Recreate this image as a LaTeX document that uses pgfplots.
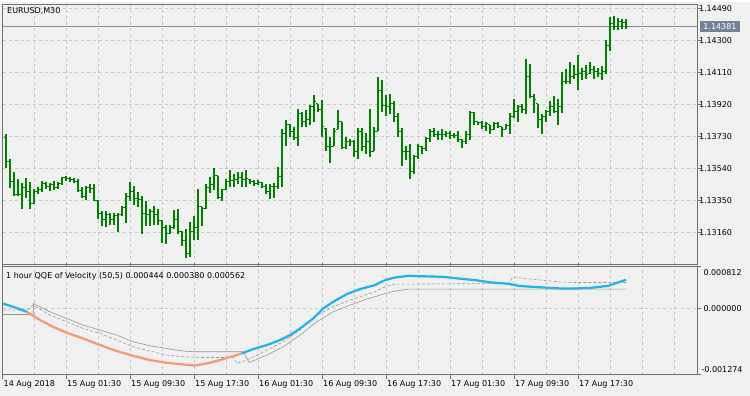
\documentclass[border=0pt]{standalone}
\usepackage{pgfplots}
\pgfplotsset{compat=1.18}
\usepackage{pgfplotstable}
\usepackage{fontspec}
\setmainfont{DejaVu Sans}
\definecolor{bgcol}{RGB}{240,240,240}
\definecolor{framecol}{RGB}{112,112,112}
\definecolor{gridcol}{RGB}{198,198,198}
\definecolor{barcol}{RGB}{0,128,0}
\definecolor{pricecol}{RGB}{116,130,152}
\definecolor{priceline}{RGB}{128,140,168}
\definecolor{qqeup}{RGB}{30,180,232}
\definecolor{qqedn}{RGB}{248,152,112}
\definecolor{trailcol}{RGB}{150,150,150}

\pgfdeclareplotmark{ohlcopen}{\pgfpathmoveto{\pgfqpoint{-1.7bp}{0bp}}\pgfpathlineto{\pgfqpoint{0bp}{0bp}}\pgfusepathqstroke}
\pgfdeclareplotmark{ohlcclose}{\pgfpathmoveto{\pgfqpoint{0bp}{0bp}}\pgfpathlineto{\pgfqpoint{1.7bp}{0bp}}\pgfusepathqstroke}

\pgfplotstableread{
i o h l c
0 1.13724 1.13742 1.13540 1.13582
1 1.13582 1.13599 1.13427 1.13463
2 1.13463 1.13522 1.13374 1.13386
3 1.13386 1.13475 1.13374 1.13386
4 1.13386 1.13451 1.13302 1.13427
5 1.13427 1.13481 1.13362 1.13403
6 1.13403 1.13457 1.13297 1.13332
7 1.13332 1.13421 1.13332 1.13403
8 1.13403 1.13433 1.13386 1.13415
9 1.13415 1.13463 1.13403 1.13451
10 1.13451 1.13457 1.13421 1.13433
11 1.13433 1.13451 1.13409 1.13445
12 1.13445 1.13463 1.13415 1.13427
13 1.13427 1.13457 1.13421 1.13451
14 1.13451 1.13492 1.13439 1.13487
15 1.13487 1.13498 1.13463 1.13481
16 1.13481 1.13492 1.13457 1.13475
17 1.13475 1.13481 1.13451 1.13463
18 1.13463 1.13475 1.13403 1.13409
19 1.13409 1.13433 1.13362 1.13374
20 1.13374 1.13439 1.13350 1.13427
21 1.13427 1.13445 1.13392 1.13421
22 1.13421 1.13445 1.13344 1.13350
23 1.13350 1.13350 1.13243 1.13273
24 1.13273 1.13285 1.13196 1.13237
25 1.13237 1.13285 1.13190 1.13267
26 1.13267 1.13273 1.13207 1.13237
27 1.13237 1.13273 1.13207 1.13261
28 1.13261 1.13273 1.13160 1.13267
29 1.13267 1.13320 1.13255 1.13308
30 1.13308 1.13397 1.13219 1.13374
31 1.13374 1.13457 1.13344 1.13403
32 1.13403 1.13439 1.13326 1.13362
33 1.13362 1.13403 1.13314 1.13356
34 1.13356 1.13374 1.13148 1.13273
35 1.13273 1.13344 1.13196 1.13267
36 1.13267 1.13297 1.13196 1.13285
37 1.13285 1.13320 1.13207 1.13267
38 1.13267 1.13302 1.13207 1.13231
39 1.13231 1.13237 1.13095 1.13190
40 1.13190 1.13207 1.13089 1.13154
41 1.13154 1.13207 1.13148 1.13190
42 1.13190 1.13291 1.13178 1.13237
43 1.13237 1.13297 1.13148 1.13166
44 1.13166 1.13166 1.13077 1.13112
45 1.13112 1.13178 1.13006 1.13035
46 1.13035 1.13225 1.13017 1.13166
47 1.13166 1.13255 1.13118 1.13190
48 1.13190 1.13421 1.13118 1.13314
49 1.13314 1.13314 1.13196 1.13302
50 1.13302 1.13445 1.13302 1.13427
51 1.13427 1.13492 1.13392 1.13445
52 1.13445 1.13540 1.13415 1.13498
53 1.13498 1.13498 1.13356 1.13368
54 1.13368 1.13421 1.13344 1.13415
55 1.13415 1.13475 1.13415 1.13463
56 1.13463 1.13534 1.13433 1.13469
57 1.13469 1.13510 1.13433 1.13475
58 1.13475 1.13522 1.13445 1.13487
59 1.13487 1.13522 1.13433 1.13475
60 1.13475 1.13534 1.13433 1.13481
61 1.13475 1.13475 1.13445 1.13463
62 1.13463 1.13469 1.13439 1.13451
63 1.13451 1.13469 1.13439 1.13457
64 1.13457 1.13457 1.13427 1.13433
65 1.13433 1.13445 1.13386 1.13403
66 1.13403 1.13445 1.13356 1.13433
67 1.13433 1.13451 1.13362 1.13433
68 1.13433 1.13546 1.13421 1.13492
69 1.13492 1.13772 1.13433 1.13748
70 1.13748 1.13831 1.13671 1.13801
71 1.13801 1.13807 1.13730 1.13760
72 1.13760 1.13789 1.13712 1.13724
73 1.13724 1.13896 1.13671 1.13867
74 1.13867 1.13878 1.13789 1.13819
75 1.13819 1.13890 1.13789 1.13831
76 1.13831 1.13920 1.13801 1.13908
77 1.13908 1.13979 1.13819 1.13938
78 1.13926 1.13926 1.13878 1.13890
79 1.13890 1.13944 1.13730 1.13789
80 1.13778 1.13778 1.13641 1.13671
81 1.13671 1.13730 1.13570 1.13671
82 1.13671 1.13778 1.13671 1.13760
83 1.13772 1.13890 1.13772 1.13819
84 1.13819 1.13819 1.13653 1.13665
85 1.13665 1.13730 1.13653 1.13700
86 1.13700 1.13718 1.13671 1.13700
87 1.13700 1.13712 1.13611 1.13641
88 1.13641 1.13778 1.13599 1.13760
89 1.13760 1.13783 1.13641 1.13671
90 1.13671 1.13748 1.13629 1.13700
91 1.13700 1.13896 1.13611 1.13641
92 1.13641 1.13789 1.13641 1.13760
93 1.13760 1.14086 1.13760 1.14003
94 1.14003 1.14068 1.13878 1.13914
95 1.13914 1.13979 1.13849 1.13908
96 1.13908 1.13985 1.13861 1.13926
97 1.13926 1.13938 1.13819 1.13849
98 1.13849 1.13867 1.13730 1.13760
99 1.13760 1.13778 1.13552 1.13641
100 1.13641 1.13671 1.13593 1.13641
101 1.13641 1.13683 1.13475 1.13522
102 1.13522 1.13623 1.13510 1.13611
103 1.13611 1.13683 1.13599 1.13671
104 1.13671 1.13671 1.13629 1.13659
105 1.13659 1.13730 1.13641 1.13718
106 1.13718 1.13772 1.13700 1.13760
107 1.13760 1.13778 1.13730 1.13742
108 1.13742 1.13760 1.13712 1.13742
109 1.13742 1.13772 1.13712 1.13742
110 1.13742 1.13760 1.13730 1.13748
111 1.13748 1.13760 1.13718 1.13736
112 1.13736 1.13748 1.13724 1.13736
113 1.13736 1.13760 1.13700 1.13712
114 1.13712 1.13718 1.13659 1.13700
115 1.13700 1.13760 1.13688 1.13742
116 1.13742 1.13884 1.13712 1.13873
117 1.13873 1.13878 1.13801 1.13819
118 1.13819 1.13819 1.13801 1.13813
119 1.13813 1.13825 1.13772 1.13789
120 1.13789 1.13819 1.13760 1.13807
121 1.13801 1.13801 1.13742 1.13772
122 1.13772 1.13819 1.13766 1.13807
123 1.13807 1.13819 1.13778 1.13789
124 1.13789 1.13789 1.13730 1.13772
125 1.13772 1.13807 1.13772 1.13795
126 1.13795 1.13867 1.13742 1.13849
127 1.13849 1.13950 1.13837 1.13878
128 1.13878 1.13920 1.13819 1.13908
129 1.13908 1.13926 1.13867 1.13890
130 1.13890 1.14193 1.13861 1.14086
131 1.14086 1.14163 1.13956 1.13968
132 1.13968 1.13985 1.13867 1.13950
133 1.13926 1.13926 1.13778 1.13831
134 1.13831 1.13861 1.13742 1.13849
135 1.13849 1.13890 1.13819 1.13878
136 1.13878 1.13938 1.13849 1.13908
137 1.13908 1.13968 1.13867 1.13878
138 1.13878 1.13950 1.13801 1.13908
139 1.13908 1.14116 1.13867 1.14057
140 1.14057 1.14128 1.14039 1.14057
141 1.14057 1.14175 1.14039 1.14086
142 1.14086 1.14157 1.14074 1.14098
143 1.14098 1.14217 1.14009 1.14104
144 1.14104 1.14134 1.14068 1.14116
145 1.14116 1.14157 1.14074 1.14098
146 1.14104 1.14175 1.14104 1.14128
147 1.14128 1.14146 1.14074 1.14116
148 1.14116 1.14134 1.14086 1.14104
149 1.14104 1.14146 1.14068 1.14116
150 1.14116 1.14306 1.14104 1.14270
151 1.14270 1.14437 1.14235 1.14401
152 1.14401 1.14443 1.14365 1.14383
153 1.14383 1.14431 1.14365 1.14413
154 1.14413 1.14425 1.14371 1.14407
155 1.14407 1.14425 1.14371 1.14381
}\bars

\begin{document}
\begin{tikzpicture}[font=\fontsize{8bp}{9.6bp}\selectfont]
\fill[bgcol] (0bp,0bp) rectangle (750bp,-394bp);

% ---------- price panel ----------
\begin{axis}[
  at={(2.5bp,-2.5bp)}, anchor=north west,
  scale only axis, width=694.5bp, height=260.8bp,
  xmin=-0.875, xmax=172.75, ymin=1.12968, ymax=1.14517,
  axis line style={framecol, line width=0.8bp},
  xtick={7,15,...,167}, xticklabels={}, xtick style={draw=none},
  ytick={1.13160,1.13350,1.13540,1.13730,1.13920,1.14110,1.14300,1.14490},
  yticklabels={1.13160,1.13350,1.13540,1.13730,1.13920,1.14110,1.14300,1.14490},
  ytick pos=right, yticklabel pos=right,
  tick align=outside, major tick length=4bp,
  ytick style={framecol, line width=0.8bp},
  yticklabel style={anchor=west, inner sep=0pt, xshift=-2.2bp, text=black},
  grid=major,
  major grid style={gridcol, line width=0.7bp, dash pattern=on 3bp off 3bp},
  clip=true,
]
\addplot[priceline, line width=0.8bp] coordinates {(-0.875,1.14381) (172.75,1.14381)};
\addplot[draw=none, mark=none,
  error bars/.cd, y dir=both, y explicit, error mark=none,
  error bar style={draw=barcol, solid, line width=1.1bp}]
  table[x=i, y=c, y error plus expr=\thisrow{h}-\thisrow{c}, y error minus expr=\thisrow{c}-\thisrow{l}] {\bars};
\addplot[only marks, mark=ohlcopen, barcol, mark options={line width=1bp}] table[x=i, y=o] {\bars};
\addplot[only marks, mark=ohlcclose, barcol, mark options={line width=1bp}] table[x=i, y=c] {\bars};
\end{axis}

% ---------- indicator panel ----------
\begin{axis}[
  at={(2.5bp,-265.3bp)}, anchor=north west,
  scale only axis, width=694.5bp, height=108bp,
  xmin=-0.875, xmax=172.75, ymin=-0.001274, ymax=0.000812,
  axis line style={framecol, line width=0.8bp},
  xtick={7,15,...,167}, xticklabels={}, xtick style={draw=none},
  extra x ticks={-0.875,15,31,47,63,79,95,111,127,143},
  extra x tick labels={14 Aug 2018,15 Aug 01:30,15 Aug 09:30,15 Aug 17:30,16 Aug 01:30,16 Aug 09:30,16 Aug 17:30,17 Aug 01:30,17 Aug 09:30,17 Aug 17:30},
  extra x tick style={grid=none, xtick style={draw=framecol, line width=0.8bp},
    xticklabel style={anchor=north west, inner sep=0pt, xshift=1bp, yshift=-2bp, text=black}},
  ytick={-0.001274,0,0.000812}, yticklabels={,,},
  ytick pos=right, tick align=outside, major tick length=4bp,
  ytick style={framecol, line width=0.8bp},
  scaled y ticks=false,
  grid=major,
  major grid style={gridcol, line width=0.7bp, dash pattern=on 3bp off 3bp},
  clip=true,
]
\addplot[trailcol, line width=0.6bp] coordinates {
(-0.875,-0.000109) (6.8,-0.000109) (6.8,0.000103) (11,-0.000057) (15.2,-0.000186)
(19.3,-0.000314) (23.5,-0.000410) (27.7,-0.000507) (31.8,-0.000636) (36,-0.000714)
(40.2,-0.000766) (44.3,-0.000816) (47.1,-0.000829) (59.3,-0.000829) (60.8,-0.001036)
(65.2,-0.000893) (69.3,-0.000733) (73.5,-0.000507) (77.7,-0.000250) (81.8,-0.000057)
(86,0.000072) (90.2,0.000188) (92.25,0.000233) (94.75,0.000296) (97.25,0.000343)
(100.6,0.000380) (155,0.000380)};
\addplot[trailcol, line width=0.6bp, dash pattern=on 3bp off 2bp] coordinates {
(-0.875,-0.000024) (5.2,-0.000024) (6.8,0.000072) (11,-0.000121) (15.2,-0.000250)
(19.3,-0.000379) (23.5,-0.000476) (27.7,-0.000603) (31.8,-0.000733) (36,-0.000816)
(40.2,-0.000893) (44.3,-0.000926) (48.5,-0.000939) (52.7,-0.000939) (56.8,-0.000939)
(57.7,-0.001055) (60.2,-0.000990) (65.2,-0.000797) (69.3,-0.000636) (73.5,-0.000410)
(77.7,-0.000121) (81.8,0.000040) (86,0.000169) (92.25,0.000329) (94.75,0.000426)
(97.25,0.000478) (100.6,0.000478) (125.6,0.000490) (126.8,0.000619) (129.75,0.000586)
(133.9,0.000555) (138.1,0.000522) (142.25,0.000509) (155,0.000509)};
\addplot[qqeup, line width=2.2bp] coordinates {
(-0.875,0.000103) (1.8,0.000040) (5.2,-0.000057)};
\addplot[qqedn, line width=2.2bp] coordinates {
(5.2,-0.000057) (8.5,-0.000217) (11.8,-0.000347) (15.2,-0.000462) (19.3,-0.000573)
(23.5,-0.000700) (27.7,-0.000816) (31.8,-0.000907) (36,-0.000990) (40.2,-0.001042)
(44.3,-0.001075) (47.1,-0.001094) (50.2,-0.001055) (53.5,-0.000990) (56.8,-0.000912)
(58.9,-0.000862)};
\addplot[qqeup, line width=2.2bp] coordinates {
(58.9,-0.000862) (61.8,-0.000777) (65.2,-0.000700) (68.5,-0.000603) (71,-0.000507)
(73.5,-0.000379) (76.8,-0.000186) (79.3,0.000007) (81.8,0.000136) (85.2,0.000285)
(88.5,0.000381) (92.25,0.000459) (94.75,0.000555) (97.25,0.000605) (100.6,0.000638)
(103.1,0.000632) (108.9,0.000619) (113.1,0.000586) (117.25,0.000555) (121.4,0.000509)
(125.6,0.000484) (128.1,0.000445) (131.4,0.000426) (135.6,0.000407) (138.9,0.000393)
(142.25,0.000393) (146.4,0.000407) (150.6,0.000445) (152.25,0.000490) (155,0.000562)};
\end{axis}

% ---------- texts ----------
\node[anchor=west, inner sep=0pt] at (7bp,-9.5bp) {EURUSD,M30};
\node[anchor=west, fill=pricecol, text=white, inner xsep=3.6bp, inner ysep=2.4bp] at (699.6bp,-25.3bp) {1.14381};
\node[anchor=west, inner sep=0pt] at (6bp,-274.6bp) {1 hour QQE of Velocity (50,5) 0.000444 0.000380 0.000562};
\node[anchor=west, inner sep=0pt] at (703.3bp,-270.7bp) {0.000812};
\node[anchor=west, inner sep=0pt] at (703.3bp,-306.9bp) {0.000000};
\node[anchor=west, inner sep=0pt] at (701.3bp,-367.7bp) {-0.001274};
\end{tikzpicture}
\end{document}
